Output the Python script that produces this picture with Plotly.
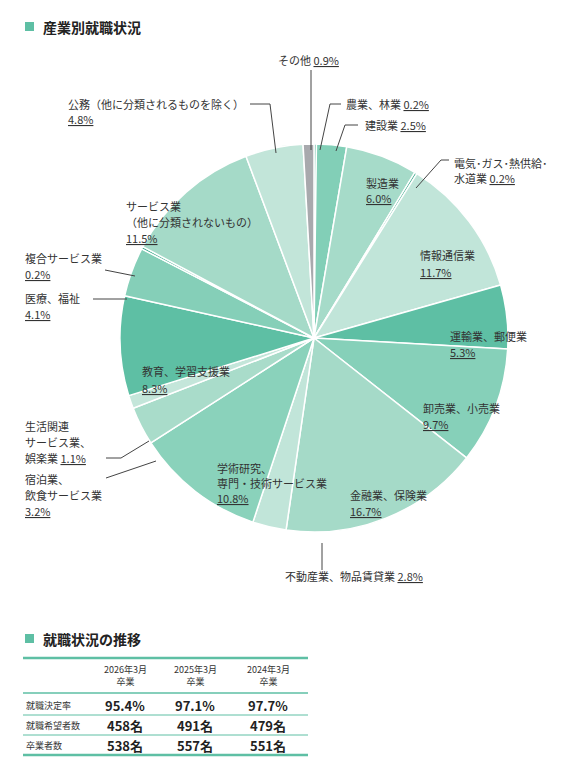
import plotly.graph_objects as go

W, H = 572, 758
industries = ["農業、林業","建設業","製造業","電気・ガス・熱供給・水道業","情報通信業","運輸業、郵便業",
              "卸売業、小売業","金融業、保険業","不動産業、物品賃貸業","学術研究、専門・技術サービス業",
              "宿泊業、飲食サービス業","生活関連サービス業、娯楽業","教育、学習支援業","医療、福祉",
              "複合サービス業","サービス業（他に分類されないもの）","公務（他に分類されるものを除く）","その他"]
shares = [0.2,2.5,6.0,0.2,11.7,5.3,9.7,16.7,2.8,10.8,3.2,1.1,8.3,4.1,0.2,11.5,4.8,0.9]
colors = ["#3aa98a","#82cfb7","#a6dbc9","#3aa98a","#c1e5d9","#5ebfa4","#86d0b9","#a5dac8","#c1e5d9",
          "#8ad2bb","#a9dcca","#c4e6da","#5ebfa4","#85cfb8","#3aa98a","#a5dac8","#c2e5d9","#a8a9ad"]

years = ["2026年3月<br>卒業","2025年3月<br>卒業","2024年3月<br>卒業"]
row_labels = ["就職決定率","就職希望者数","卒業者数"]
rate = ["95.4%","97.1%","97.7%"]
hope = ["458名","491名","479名"]
grads = ["538名","557名","551名"]

def px(x): return x / W
def py(y): return 1 - y / H

fig = go.Figure(go.Pie(
    values=shares, labels=industries, sort=False, direction="clockwise", rotation=0,
    marker=dict(colors=colors, line=dict(color="white", width=1.5)),
    textinfo="none", hoverinfo="label+percent", showlegend=False,
    domain=dict(x=[px(112), px(500)], y=[py(525), py(135)])))

ann = []
shapes = []
TXT = "#333333"
FS = 11
def label(x, y, text, size=FS, anchor="left"):
    ann.append(dict(x=px(x), y=py(y), xref="paper", yref="paper", text=text, showarrow=False,
                    xanchor=anchor, yanchor="middle", align=anchor, font=dict(size=size, color=TXT)))
def line(pts):
    for (x0, y0), (x1, y1) in zip(pts[:-1], pts[1:]):
        shapes.append(dict(type="line", xref="paper", yref="paper", x0=px(x0), y0=py(y0), x1=px(x1), y1=py(y1),
                           line=dict(color="#444", width=1)))

def pct(i): return f"<u>{shares[i]}%</u>"

label(268, 52, "その他 " + pct(17)); line([(303, 62), (303, 142)])
label(336, 96, "農業、林業 " + pct(0)); line([(333, 96), (322, 96), (312, 142)])
label(355, 117, "建設業 " + pct(1)); line([(350, 117), (337, 117), (328, 143)])
label(58, 96, "公務（他に分類されるものを除く）"); label(58, 111, pct(16))
line([(242, 96), (262, 96), (268, 145)])
label(444, 155, "電気･ガス･熱供給･"); label(444, 170, "水道業 " + pct(3))
line([(441, 152), (433, 152), (408, 180)])
label(356, 175, "製造業"); label(356, 190, pct(2))
label(410, 247, "情報通信業"); label(410, 264, pct(4))
label(440, 328, "運輸業、郵便業"); label(440, 344, pct(5))
label(413, 400, "卸売業、小売業"); label(413, 416, pct(6))
label(340, 487, "金融業、保険業"); label(340, 503, pct(7))
label(207, 460, "学術研究、"); label(207, 475, "専門・技術サービス業"); label(207, 490, pct(9))
label(132, 363, "教育、学習支援業"); label(132, 380, pct(12))
label(116, 198, "サービス業"); label(116, 214, "（他に分類されないもの）"); label(116, 230, pct(15))
label(15, 250, "複合サービス業"); label(15, 266, pct(14)); line([(97, 262), (127, 268)])
label(15, 290, "医療、福祉"); label(15, 306, pct(13)); line([(85, 291), (119, 291)])
label(15, 418, "生活関連"); label(15, 434, "サービス業、"); label(15, 450, "娯楽業 " + pct(11))
line([(98, 450), (113, 450), (141, 433)])
label(15, 471, "宿泊業、"); label(15, 487, "飲食サービス業"); label(15, 503, pct(10))
line([(98, 470), (148, 453)])
label(275, 568, "不動産業、物品賃貸業 " + pct(8)); line([(314, 535), (314, 562)])

# titles
for y, t in [(19, "産業別就職状況"), (631, "就職状況の推移")]:
    shapes.append(dict(type="rect", xref="paper", yref="paper", x0=px(17), x1=px(26), y0=py(y + 4), y1=py(y - 5),
                       fillcolor="#5ebfa4", line=dict(width=0)))
    ann.append(dict(x=px(33), y=py(y), xref="paper", yref="paper", text=f"<b>{t}</b>", showarrow=False,
                    xanchor="left", yanchor="middle", font=dict(size=14, color="#222")))

# table
for y, w in [(650, 2.5), (685, 1.5), (707, 1), (727, 1), (747, 2.5)]:
    shapes.append(dict(type="line", xref="paper", yref="paper", x0=px(15), x1=px(300), y0=py(y), y1=py(y),
                       line=dict(color="#5ebfa4", width=w)))
cols = [117, 187, 260]
for cx, yr in zip(cols, years):
    ann.append(dict(x=px(cx), y=py(667), xref="paper", yref="paper", text=yr, showarrow=False,
                    xanchor="center", yanchor="middle", font=dict(size=9, color=TXT)))
for ry, rl, vals in zip([697, 717, 737], row_labels, [rate, hope, grads]):
    ann.append(dict(x=px(16), y=py(ry), xref="paper", yref="paper", text=rl, showarrow=False,
                    xanchor="left", yanchor="middle", font=dict(size=9, color=TXT)))
    for cx, v in zip(cols, vals):
        ann.append(dict(x=px(cx), y=py(ry), xref="paper", yref="paper", text=f"<b>{v}</b>", showarrow=False,
                        xanchor="center", yanchor="middle", font=dict(size=13, color="#222")))

fig.update_layout(width=W, height=H, margin=dict(l=0, r=0, t=0, b=0), paper_bgcolor="white",
                  font=dict(family="Noto Sans CJK JP"), annotations=ann, shapes=shapes)
fig.write_html("out.html")
